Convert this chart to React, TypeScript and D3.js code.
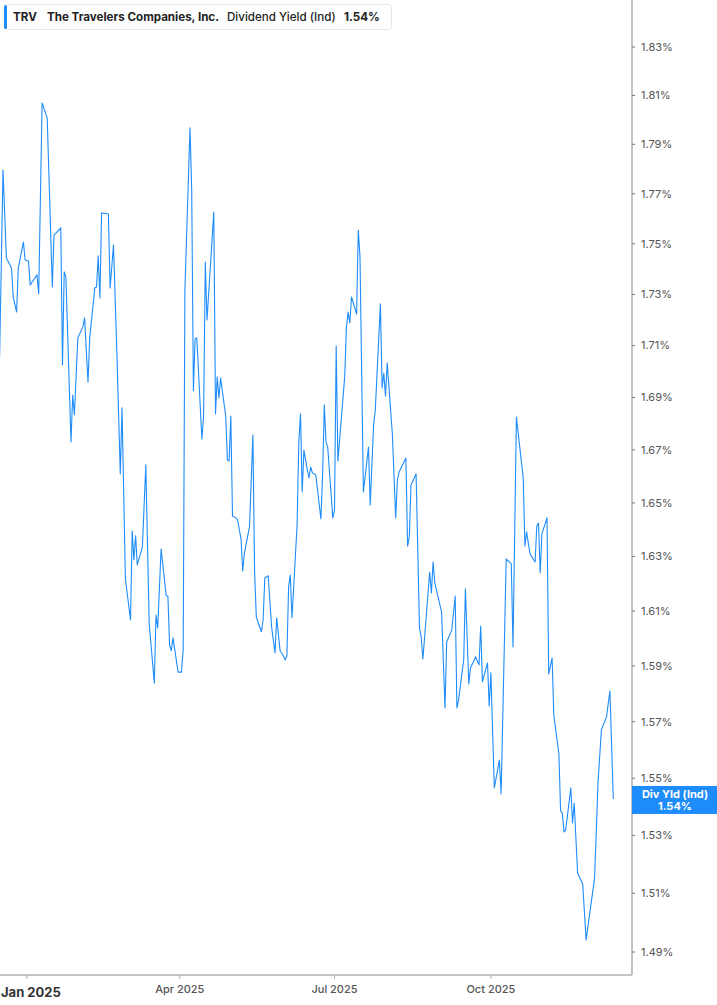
import { useEffect, useRef } from "react";
import * as d3 from "d3";

// Dividend yield (indicated), %
const dates = [
  "2024-12-16", "2024-12-18", "2024-12-20", "2024-12-23", "2024-12-24", "2024-12-26", "2024-12-27", "2024-12-30",
  "2024-12-31", "2025-01-02", "2025-01-03", "2025-01-07", "2025-01-08", "2025-01-10", "2025-01-13", "2025-01-16",
  "2025-01-17", "2025-01-21", "2025-01-22", "2025-01-23", "2025-01-24", "2025-01-27", "2025-01-28", "2025-01-29",
  "2025-01-31", "2025-02-03", "2025-02-04", "2025-02-06", "2025-02-07", "2025-02-10", "2025-02-11", "2025-02-12",
  "2025-02-13", "2025-02-14", "2025-02-18", "2025-02-19", "2025-02-21", "2025-02-23", "2025-02-25", "2025-02-26",
  "2025-02-28", "2025-03-03", "2025-03-04", "2025-03-05", "2025-03-06", "2025-03-07", "2025-03-10", "2025-03-12",
  "2025-03-14", "2025-03-17", "2025-03-18", "2025-03-19", "2025-03-21", "2025-03-24", "2025-03-25", "2025-03-26",
  "2025-03-27", "2025-03-28", "2025-03-31", "2025-04-02", "2025-04-03", "2025-04-04", "2025-04-07", "2025-04-08",
  "2025-04-09", "2025-04-10", "2025-04-11", "2025-04-14", "2025-04-15", "2025-04-16", "2025-04-17", "2025-04-21",
  "2025-04-22", "2025-04-23", "2025-04-24", "2025-04-25", "2025-04-28", "2025-04-29", "2025-04-30", "2025-05-01",
  "2025-05-02", "2025-05-04", "2025-05-05", "2025-05-07", "2025-05-08", "2025-05-09", "2025-05-12", "2025-05-14",
  "2025-05-15", "2025-05-16", "2025-05-19", "2025-05-20", "2025-05-21", "2025-05-23", "2025-05-25", "2025-05-27",
  "2025-05-28", "2025-05-30", "2025-06-01", "2025-06-02", "2025-06-03", "2025-06-04", "2025-06-05", "2025-06-06",
  "2025-06-09", "2025-06-10", "2025-06-11", "2025-06-12", "2025-06-13", "2025-06-15", "2025-06-16", "2025-06-17",
  "2025-06-18", "2025-06-20", "2025-06-23", "2025-06-24", "2025-06-25", "2025-06-26", "2025-06-27", "2025-06-30",
  "2025-07-01", "2025-07-02", "2025-07-03", "2025-07-07", "2025-07-08", "2025-07-09", "2025-07-10", "2025-07-11",
  "2025-07-14", "2025-07-15", "2025-07-16", "2025-07-18", "2025-07-21", "2025-07-22", "2025-07-24", "2025-07-25",
  "2025-07-28", "2025-07-29", "2025-07-30", "2025-07-31", "2025-08-01", "2025-08-04", "2025-08-06", "2025-08-07",
  "2025-08-08", "2025-08-12", "2025-08-13", "2025-08-14", "2025-08-15", "2025-08-18", "2025-08-20", "2025-08-21",
  "2025-08-22", "2025-08-26", "2025-08-27", "2025-08-28", "2025-08-29", "2025-09-02", "2025-09-04", "2025-09-05",
  "2025-09-08", "2025-09-10", "2025-09-11", "2025-09-12", "2025-09-15", "2025-09-16", "2025-09-18", "2025-09-19",
  "2025-09-22", "2025-09-24", "2025-09-25", "2025-09-26", "2025-09-29", "2025-09-30", "2025-10-01", "2025-10-03",
  "2025-10-06", "2025-10-07", "2025-10-10", "2025-10-13", "2025-10-14", "2025-10-16", "2025-10-20", "2025-10-21",
  "2025-10-22", "2025-10-24", "2025-10-27", "2025-10-28", "2025-10-29", "2025-10-30", "2025-10-31", "2025-11-03",
  "2025-11-04", "2025-11-06", "2025-11-07", "2025-11-10", "2025-11-11", "2025-11-12", "2025-11-13", "2025-11-14",
  "2025-11-17", "2025-11-18", "2025-11-19", "2025-11-21", "2025-11-24", "2025-11-26", "2025-12-01", "2025-12-03",
  "2025-12-05", "2025-12-08", "2025-12-10", "2025-12-12",
];

const yields = [
  1.7056, 1.7796, 1.7444, 1.7404, 1.729, 1.7231, 1.7404, 1.7507,
  1.7436, 1.7432, 1.7337, 1.7377, 1.7302, 1.8069, 1.8008, 1.7329,
  1.7535, 1.7563, 1.7025, 1.7389, 1.7369, 1.673, 1.6909, 1.6833,
  1.713, 1.7173, 1.7208, 1.6959, 1.713, 1.7325, 1.7329, 1.7452,
  1.7286, 1.7623, 1.7619, 1.7325, 1.7495, 1.7068, 1.6609, 1.686,
  1.6218, 1.6067, 1.6395, 1.6288, 1.6377, 1.6269, 1.6336, 1.6643,
  1.6053, 1.5839, 1.6085, 1.6038, 1.6328, 1.6155, 1.6155, 1.5976,
  1.5955, 1.6002, 1.5878, 1.5878, 1.5962, 1.7317, 1.7967, 1.7719,
  1.6925, 1.7126, 1.713, 1.6741, 1.6829, 1.7428, 1.72, 1.7627,
  1.6837, 1.6979, 1.6898, 1.6975, 1.6829, 1.6662, 1.6658, 1.6829,
  1.6451, 1.6444, 1.6436, 1.6366, 1.6247, 1.6313, 1.641, 1.6756,
  1.6243, 1.6078, 1.6024, 1.6067, 1.6221, 1.6229, 1.6042, 1.5947,
  1.6075, 1.5955, 1.5936, 1.5922, 1.5936, 1.6188, 1.6232, 1.6075,
  1.6418, 1.673, 1.6837, 1.6541, 1.6699, 1.6624, 1.6594, 1.6635,
  1.6613, 1.6605, 1.644, 1.6605, 1.6871, 1.673, 1.6711, 1.6444,
  1.6474, 1.7098, 1.6658, 1.6979, 1.7169, 1.7231, 1.7188, 1.729,
  1.7223, 1.7555, 1.7448, 1.6541, 1.6711, 1.6492, 1.6795, 1.6852,
  1.7263, 1.6936, 1.6994, 1.6905, 1.7033, 1.6764, 1.6444, 1.6586,
  1.6616, 1.6669, 1.6339, 1.6373, 1.6567, 1.6609, 1.6038, 1.6005,
  1.5925, 1.6243, 1.6166, 1.628, 1.6203, 1.6096, 1.5749, 1.5987,
  1.6031, 1.6155, 1.5749, 1.5778, 1.5922, 1.6181, 1.5835, 1.5893,
  1.5933, 1.5904, 1.6045, 1.5843, 1.5911, 1.5756, 1.5875, 1.5466,
  1.5564, 1.5445, 1.6291, 1.6273, 1.5969, 1.6825, 1.6594, 1.6339,
  1.6392, 1.631, 1.628, 1.6414, 1.6425, 1.624, 1.6384, 1.6444,
  1.5871, 1.5929, 1.5724, 1.5586, 1.5385, 1.5378, 1.5312, 1.5319,
  1.5466, 1.5343, 1.5413, 1.517, 1.5132, 1.4941, 1.5153, 1.5483,
  1.5671, 1.5717, 1.581, 1.5427,
];

const yTicks = [1.49, 1.51, 1.53, 1.55, 1.57, 1.59, 1.61, 1.63, 1.65, 1.67, 1.69, 1.71, 1.73, 1.75, 1.77, 1.79, 1.81, 1.83];
const xTicks = ["2025-01-01", "2025-04-01", "2025-07-01", "2025-10-01"];

const ticker = "TRV";
const company = "The Travelers Companies, Inc.";
const metric = "Dividend Yield (Ind)";
const lastLabel = "Div Yld (Ind)";

const BLUE = "#1e8cfa";
const FONT = "Inter, 'Noto Sans', sans-serif";

export default function App() {
  const svgRef = useRef<SVGSVGElement | null>(null);

  useEffect(() => {
    const width = 717;
    const height = 1005;
    const plotRight = 632;
    const plotBottom = 975;
    const parse = d3.timeParse("%Y-%m-%d");

    const data = dates.map((d, i) => ({ date: parse(d)!, value: yields[i] }));

    const svg = d3.select(svgRef.current);
    svg.selectAll("*").remove();
    svg.attr("width", width).attr("height", height).style("font-family", FONT);

    // time scale anchored on the quarter ticks, log scale for the yield
    const x = d3
      .scaleTime()
      .domain([parse("2025-01-01")!, parse("2025-10-01")!])
      .range([26.8, 490.9]);
    const y = d3.scaleLog().domain([1.49, 1.83]).range([952, 47]);

    svg.append("rect").attr("width", width).attr("height", height).attr("fill", "#fff");

    // the line
    const line = d3
      .line<{ date: Date; value: number }>()
      .x((d) => x(d.date))
      .y((d) => y(d.value));

    svg
      .append("path")
      .datum(data)
      .attr("fill", "none")
      .attr("stroke", BLUE)
      .attr("stroke-width", 1.1)
      .attr("stroke-linejoin", "round")
      .attr("d", line);

    // right axis
    svg
      .append("line")
      .attr("x1", plotRight)
      .attr("x2", plotRight)
      .attr("y1", 0)
      .attr("y2", plotBottom)
      .attr("stroke", "#9a9a9a")
      .attr("stroke-width", 1.2);

    const yAxis = svg.append("g");
    yTicks.forEach((t) => {
      yAxis
        .append("line")
        .attr("x1", plotRight)
        .attr("x2", plotRight + 3)
        .attr("y1", y(t))
        .attr("y2", y(t))
        .attr("stroke", "#777");
      yAxis
        .append("text")
        .attr("x", plotRight + 9)
        .attr("y", y(t))
        .attr("dy", "0.35em")
        .attr("font-size", 11)
        .attr("fill", "#555")
        .text(d3.format(".2f")(t) + "%");
    });

    // bottom axis
    svg
      .append("line")
      .attr("x1", 0)
      .attr("x2", plotRight)
      .attr("y1", plotBottom)
      .attr("y2", plotBottom)
      .attr("stroke", "#b0b0b0")
      .attr("stroke-width", 1.5);

    const xAxis = svg.append("g");
    xTicks.forEach((t, i) => {
      const d = parse(t)!;
      const first = i === 0;
      xAxis
        .append("line")
        .attr("x1", x(d))
        .attr("x2", x(d))
        .attr("y1", plotBottom)
        .attr("y2", plotBottom + 4)
        .attr("stroke", "#b0b0b0");
      xAxis
        .append("text")
        .attr("x", first ? 1 : x(d))
        .attr("y", first ? 997 : 993)
        .attr("text-anchor", first ? "start" : "middle")
        .attr("font-size", first ? 13 : 11)
        .attr("font-weight", first ? 700 : 500)
        .attr("fill", first ? "#333" : "#555")
        .text(d3.timeFormat("%b %Y")(d));
    });

    // last value badge
    const last = data[data.length - 1];
    const badge = svg.append("g");
    badge
      .append("rect")
      .attr("x", plotRight)
      .attr("y", y(last.value) - 13)
      .attr("width", width - plotRight)
      .attr("height", 28)
      .attr("fill", BLUE);
    badge
      .append("text")
      .attr("x", 675)
      .attr("y", y(last.value) - 1)
      .attr("text-anchor", "middle")
      .attr("font-size", 11)
      .attr("font-weight", 700)
      .attr("fill", "#fff")
      .text(lastLabel);
    badge
      .append("text")
      .attr("x", 675)
      .attr("y", y(last.value) + 11)
      .attr("text-anchor", "middle")
      .attr("font-size", 11)
      .attr("font-weight", 700)
      .attr("fill", "#fff")
      .text(d3.format(".2f")(last.value) + "%");

    // header legend
    const header = svg.append("g");
    header
      .append("rect")
      .attr("x", 4.5)
      .attr("y", 4.5)
      .attr("width", 387)
      .attr("height", 25)
      .attr("rx", 3)
      .attr("fill", "#fff")
      .attr("stroke", "#e8e8e8");
    header
      .append("rect")
      .attr("x", 4)
      .attr("y", 5)
      .attr("width", 3)
      .attr("height", 24)
      .attr("rx", 1.5)
      .attr("fill", BLUE);
    const hText = header
      .append("text")
      .attr("x", 13)
      .attr("y", 21)
      .attr("font-size", 11.6)
      .attr("fill", "#222");
    hText.append("tspan").attr("font-weight", 700).text(ticker);
    hText.append("tspan").attr("x", 47).attr("font-weight", 700).text(company);
    hText.append("tspan").attr("x", 227).attr("font-weight", 500).text(metric);
    hText
      .append("tspan")
      .attr("x", 344)
      .attr("font-weight", 700)
      .text(d3.format(".2f")(last.value) + "%");
  }, []);

  return (
    <>
      <style>{`body{margin:0}`}</style>
      <svg ref={svgRef} style={{ display: "block" }}></svg>
    </>
  );
}
